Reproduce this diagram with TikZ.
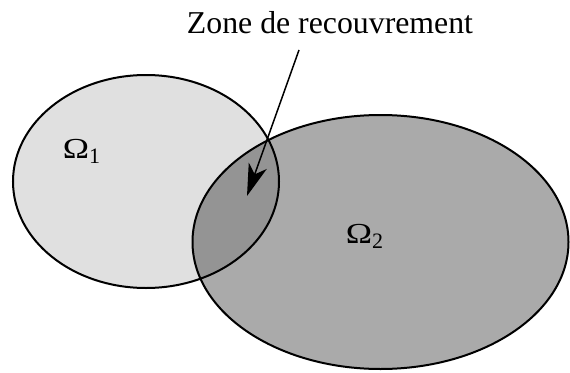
\documentclass[tikz,border=0pt]{standalone}
\usepackage{fontspec}
\setmainfont{Liberation Serif}
\usetikzlibrary{arrows.meta,shapes.geometric}
\definecolor{gone}{gray}{0.878}
\definecolor{gtwo}{gray}{0.667}
\definecolor{gover}{gray}{0.58}
\tikzset{
  region/.style={ellipse, inner sep=0pt, draw=none},
  outline/.style={line width=2pt, draw=black},
  pointer/.style={line width=1.5pt, -{Stealth[length=32pt, width=19pt, inset=9pt]}},
  omega/.style={anchor=base, font=\fontsize{29}{32}\selectfont, inner sep=0pt},
  title/.style={anchor=base, font=\fontsize{31.8}{36}\selectfont, inner sep=0pt}
}
\newcommand{\bigom}{\scalebox{1.22}[1]{Ω}}
\newcommand{\omsub}[1]{\raisebox{-5pt}{\fontsize{22}{24}\selectfont #1}}
\begin{document}
\begin{tikzpicture}[x=1pt,y=-1pt]
\useasboundingbox (0,0) rectangle (570,372);
\node[region, fill=gone, minimum width=266pt, minimum height=213pt] (o1) at (146,181.5) {};
\node[region, fill=gtwo, minimum width=376pt, minimum height=254pt] (o2) at (380.5,242) {};
\begin{scope}
  \clip (o1.center) ellipse [x radius=133pt, y radius=106.5pt];
  \fill[gover] (o2.center) ellipse [x radius=188pt, y radius=127pt];
\end{scope}
\draw[outline] (o1.center) ellipse [x radius=133pt, y radius=106.5pt];
\draw[outline] (o2.center) ellipse [x radius=188pt, y radius=127pt];
\node[omega] (w1) at (81.5,158) {\bigom\omsub{1}};
\node[omega] (w2) at (364.5,243) {\bigom\omsub{2}};
\node[title] (lbl) at (330,33) {Zone de recouvrement};
\coordinate (a0) at (299,50);
\coordinate (a1) at (247,196);
\draw[pointer] (a0) -- (a1);
\end{tikzpicture}
\end{document}
